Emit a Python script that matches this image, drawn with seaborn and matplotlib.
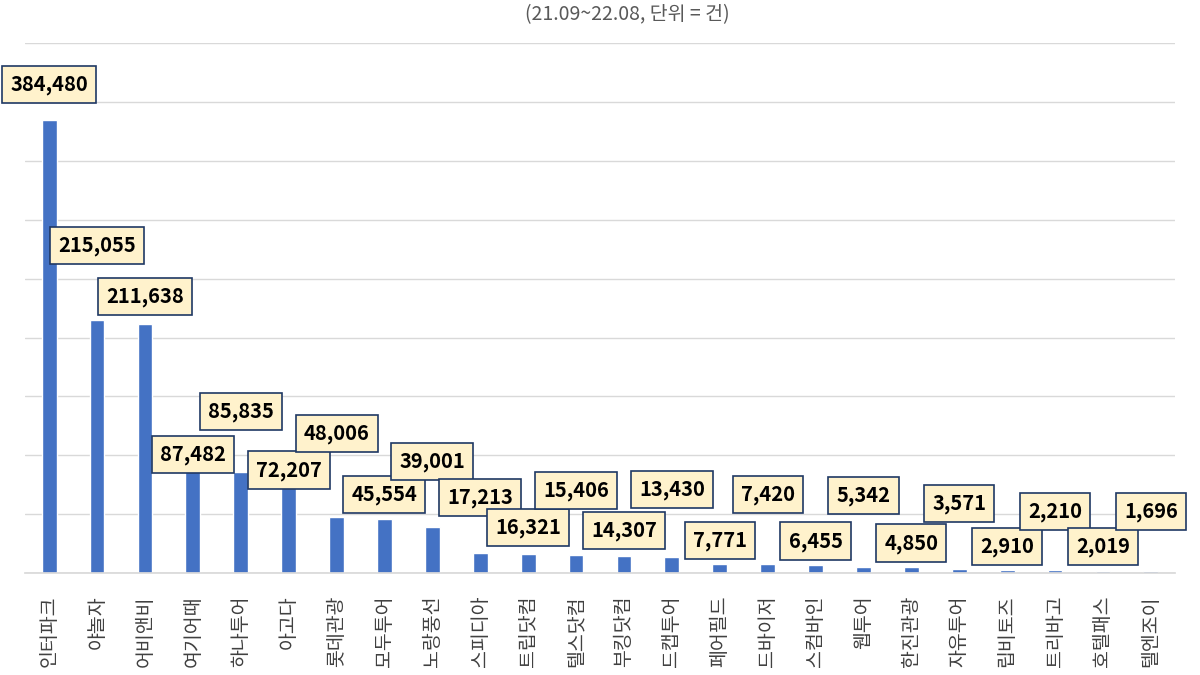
import pandas as pd
import matplotlib
matplotlib.use("Agg")
import matplotlib.pyplot as plt
import seaborn as sns

# 플랫폼별 건수 (21.09~22.08)
platforms = ['인터파크', '야놀자', '어비앤비', '여기어때', '하나투어', '아고다', '롯데관광', '모두투어',
             '노랑풍선', '스피디아', '트립닷컴', '텔스닷컴', '부킹닷컴', '드캡투어', '페어필드', '드바이저',
             '스컴바인', '웹투어', '한진관광', '자유투어', '립비토즈', '트리바고', '호텔패스', '텔엔조이']
counts = [384480, 215055, 211638, 87482, 85835, 72207, 48006, 45554,
          39001, 17213, 16321, 15406, 14307, 13430, 7771, 7420,
          6455, 5342, 4850, 3571, 2910, 2210, 2019, 1696]

# where each data label box sits (y, in axis units)
label_y = [415000, 278500, 235200, 101000, 137500, 87500, 118900, 67000,
           95000, 64500, 39000, 70500, 36500, 71000, 28000, 67000,
           27200, 66000, 25500, 59400, 22900, 52600, 22900, 52600]

sns.set_theme(style="white")
plt.rcParams['font.family'] = ['Noto Sans CJK KR', 'DejaVu Sans']

df = pd.DataFrame({'platform': platforms, 'count': counts})

fig = plt.figure(figsize=(12, 6.75), dpi=100)
ax = fig.add_axes([0.021, 0.151, 0.958, 0.785])

sns.barplot(data=df, x='platform', y='count', color='#4472C4', width=0.31,
            saturation=1, ax=ax)

ax.set_ylim(0, 450000)
ax.set_xlim(-0.5, len(platforms) - 0.5)
ax.set_yticks(range(0, 450001, 50000))
ax.yaxis.grid(True, color='#D9D9D9', linewidth=1)
ax.set_axisbelow(True)
ax.tick_params(axis='y', left=False, labelleft=False)
ax.tick_params(axis='x', bottom=False, pad=10)
for side in ['top', 'right', 'left']:
    ax.spines[side].set_visible(False)
ax.spines['bottom'].set_color('#D9D9D9')
ax.set_xlabel('')
ax.set_ylabel('')
plt.setp(ax.get_xticklabels(), rotation=90, fontsize=14, color='#404040')

for i, (v, ly) in enumerate(zip(counts, label_y)):
    ax.text(i, ly, f"{v:,}", ha='center', va='center', fontsize=14.5,
            fontweight='bold', color='black',
            bbox=dict(boxstyle='square,pad=0.4', facecolor='#FFF2CC',
                      edgecolor='#1F3864', linewidth=1.2))

fig.text(0.523, 0.979, '(21.09~22.08, 단위 = 건)', ha='center', va='center',
         fontsize=14, color='#595959')

fig.savefig('out.png', dpi=100)
